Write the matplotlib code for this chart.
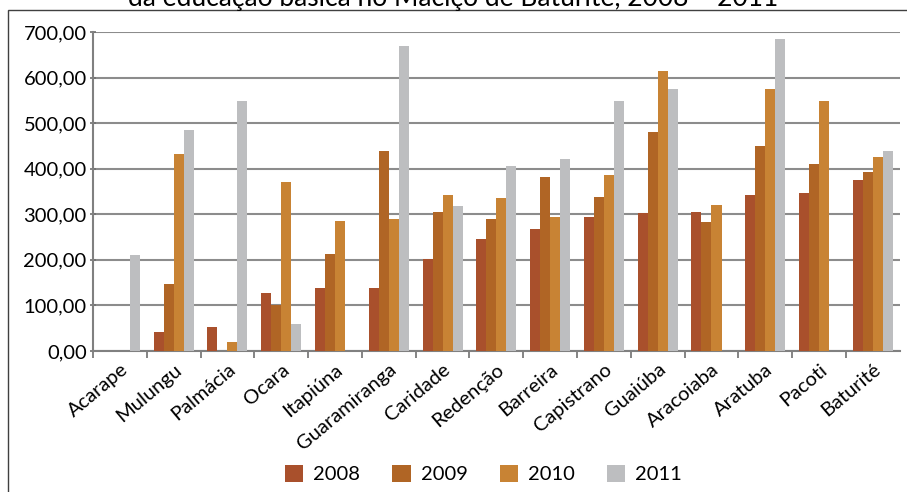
#!/usr/bin/env python3

import numpy as np
import matplotlib
matplotlib.use("Agg")
import matplotlib.pyplot as plt
from matplotlib.patches import Rectangle
from matplotlib.ticker import FuncFormatter

municipios = ['Acarape', 'Mulungu', 'Palmácia', 'Ocara', 'Itapiúna',
              'Guaramiranga', 'Caridade', 'Redenção', 'Barreira', 'Capistrano',
              'Guaiúba', 'Aracoiaba', 'Aratuba', 'Pacoti', 'Baturité']
anos = ['2008', '2009', '2010', '2011']
v2008 = [0, 42, 53, 127, 138, 138, 202, 245, 267, 294, 302, 305, 342, 346, 375]
v2009 = [0, 147, 0, 101, 213, 438, 305, 289, 381, 338, 480, 283, 449, 410, 392]
v2010 = [0, 432, 20, 370, 285, 289, 342, 335, 294, 386, 614, 320, 574, 548, 425]
v2011 = [210, 484, 548, 59, 0, 669, 318, 405, 421, 548, 574, 0, 684, 0, 439]
cores = ['#A9502C', '#B06525', '#C88334', '#BDBEC0']

plt.rcParams['font.family'] = ['Lato', 'DejaVu Sans']

fig = plt.figure(figsize=(9.07, 4.92), dpi=100)
ax = fig.add_axes([0.1025, 0.2866, 0.8895, 0.6484])

x = np.arange(len(municipios))
w = 0.186
for i, (serie, cor, ano) in enumerate(zip([v2008, v2009, v2010, v2011], cores, anos)):
    ax.bar(x + (i - 1.5) * w, serie, w, color=cor, label=ano, zorder=3)

ax.set_xlim(-0.5, len(municipios) - 0.5)
ax.set_ylim(0, 700)
ax.set_yticks(np.arange(0, 701, 100))
ax.yaxis.set_major_formatter(FuncFormatter(lambda v, p: '{:.2f}'.format(v).replace('.', ',')))
ax.grid(axis='y', color='#8C8C8C', linewidth=1.5, zorder=0)
ax.set_axisbelow(True)

ax.set_xticks(x - 0.5, minor=True)
ax.set_xticks(x)
ax.set_xticklabels(municipios, rotation=40, ha='right', rotation_mode='anchor', fontsize=14.5)
ax.tick_params(axis='x', which='major', length=0, pad=7)
ax.tick_params(axis='x', which='minor', length=5, width=1.2, color='#707070', direction='out')
ax.tick_params(axis='y', length=5, width=1.2, color='#707070', direction='inout', labelsize=14.5, pad=2)

for s in ['top', 'right']:
    ax.spines[s].set_visible(False)
for s in ['left', 'bottom']:
    ax.spines[s].set_color('#808080')
    ax.spines[s].set_linewidth(1.5)

fig.legend(loc='center', bbox_to_anchor=(0.533, 0.036), ncol=4, frameon=False,
           fontsize=14.5, handlelength=0.9, handleheight=0.9, columnspacing=1.6,
           handletextpad=0.5)

# moldura externa
fig.patches.append(Rectangle((8 / 907, -0.1), 1.2, 1.1 - 10 / 492,
                             transform=fig.transFigure, fill=False,
                             edgecolor='#404040', linewidth=1.0))

fig.text(0.5, 0.988, 'da educação básica no Maciço de Baturité, 2008 – 2011',
         ha='center', va='baseline', fontsize=19)

fig.savefig('out.png', dpi=100)
